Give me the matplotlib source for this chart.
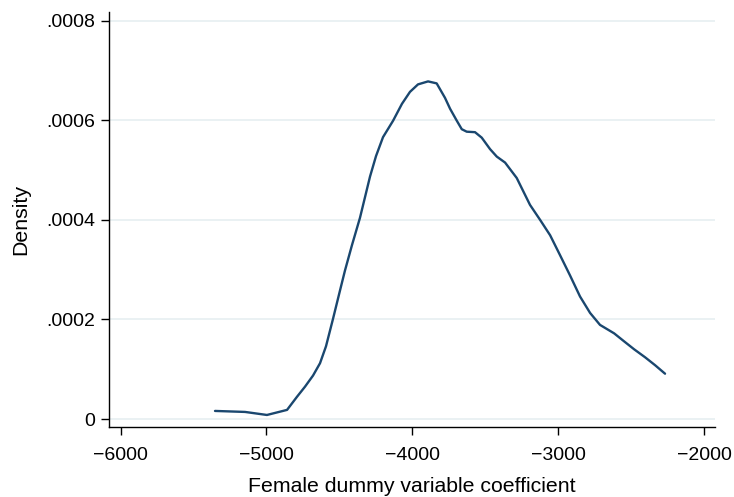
import matplotlib
matplotlib.use("Agg")
import matplotlib.pyplot as plt

plt.rcParams['font.family'] = ['Liberation Sans', 'DejaVu Sans']

coef = [-5353, -5147, -4997, -4859, -4791, -4736, -4681, -4633, -4592, -4544,
        -4496, -4462, -4414, -4359, -4290, -4249, -4201, -4132, -4071, -4016,
        -3961, -3892, -3833, -3776, -3741, -3695, -3661, -3627, -3570, -3524,
        -3467, -3421, -3364, -3284, -3193, -3124, -3055, -2987, -2918, -2850,
        -2781, -2713, -2616, -2548, -2479, -2404, -2335, -2267]
density = [1.62e-5, 1.42e-5, 8.1e-6, 1.83e-5, 4.46e-5, 6.49e-5, 8.72e-5, 1.12e-4,
           1.46e-4, 2.01e-4, 2.58e-4, 2.98e-4, 3.49e-4, 4.04e-4, 4.87e-4, 5.28e-4,
           5.66e-4, 5.99e-4, 6.33e-4, 6.57e-4, 6.72e-4, 6.78e-4, 6.74e-4, 6.45e-4,
           6.23e-4, 5.99e-4, 5.82e-4, 5.77e-4, 5.76e-4, 5.65e-4, 5.42e-4, 5.27e-4,
           5.15e-4, 4.84e-4, 4.30e-4, 4.00e-4, 3.69e-4, 3.29e-4, 2.88e-4, 2.46e-4,
           2.13e-4, 1.89e-4, 1.72e-4, 1.56e-4, 1.40e-4, 1.24e-4, 1.08e-4, 9.1e-5]

xticks = [-6000, -5000, -4000, -3000, -2000]
xticklabels = ['\u22126000', '\u22125000', '\u22124000', '\u22123000', '\u22122000']
yticks = [0, 0.0002, 0.0004, 0.0006, 0.0008]
yticklabels = ['0', '.0002', '.0004', '.0006', '.0008']

fig = plt.figure(figsize=(7.34, 4.97), dpi=100)
ax = fig.add_axes([0.1485, 0.1402, 0.974 - 0.1485, 0.9765 - 0.1402])

for yv in yticks:
    ax.axhline(yv, color='#e6eff1', lw=1.2, zorder=0)

ax.plot(coef, density, color='#1a476f', lw=1.7, zorder=2,
        solid_joinstyle='round', solid_capstyle='round')

ax.set_xlim(-6080, -1925)
ax.set_ylim(-0.0000167, 0.000818)
ax.set_xticks(xticks)
ax.set_xticklabels(xticklabels)
ax.set_yticks(yticks)
ax.set_yticklabels(yticklabels)

for s in ['top', 'right']:
    ax.spines[s].set_visible(False)
for s in ['left', 'bottom']:
    ax.spines[s].set_linewidth(1.0)
    ax.spines[s].set_color('black')

ax.tick_params(axis='both', length=6, width=1.0, labelsize=14)
ax.tick_params(axis='x', pad=8)
ax.tick_params(axis='y', pad=4)
ax.set_xlabel('Female dummy variable coefficient', fontsize=15.3, labelpad=9.5)
ax.set_ylabel('Density', fontsize=15.3, labelpad=11.5)

fig.savefig('out.png', dpi=100)
